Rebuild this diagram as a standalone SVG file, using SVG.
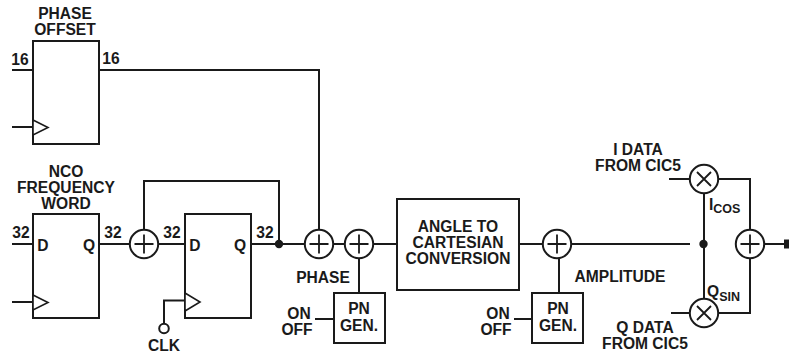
<svg xmlns="http://www.w3.org/2000/svg" width="789" height="353" viewBox="0 0 789 353">
<style>
text{font-family:"Liberation Sans",Arial,sans-serif;font-weight:700;font-size:15.6px;fill:#1a1a1a;text-anchor:middle}
.sub{font-size:12.500px}
.l{text-anchor:start}
.b,.s{fill:#fff;stroke:#1a1a1a;stroke-width:2}
.w{fill:none;stroke:#1a1a1a;stroke-width:2}
.t{fill:#fff;stroke:#1a1a1a;stroke-width:1.6}
.c{fill:none;stroke:#1a1a1a;stroke-width:1.8}
</style>
<defs>
<g id="add"><circle r="14.2" class="s"/><path d="M-9.5 0H9.5M0-9.5V9.5" class="c"/></g>
<g id="mul"><circle r="14.2" class="s"/><path d="M-7-7L7 7M-7 7L7-7" class="c"/></g>
</defs>
<g id="connectors">
<path class="w" d="M12 70H33M99 70H319V230M12 127H33M12 302H33M12 244H33M99 244H130M158 244H185M144 230V181H279V244M251 244H305M333 244H345M373 244H397M519 244H543M571 244H690M704 193V299M718 179H750V230M718 313H750V258M669 179H690M671 313H690M764 244H786M359 258V293M559 258V293M315 319H334M514 319H532M185 300.500H164V323"/>
<path d="M784 239.500V248.500H789V239.500Z" fill="#1a1a1a"/>
<circle cx="279" cy="244" r="4.200" fill="#1a1a1a"/>
<circle cx="703.500" cy="244" r="4.200" fill="#1a1a1a"/>
</g>
<g id="phase-offset"><rect class="b" x="33" y="41" width="66" height="103"/><path class="t" d="M33 120L48 127.500L33 135Z"/><text x="65" y="19">PHASE</text><text x="65" y="35">OFFSET</text><text x="20" y="65">16</text><text x="111" y="64">16</text></g>
<g id="nco-word"><rect class="b" x="33" y="214" width="66" height="104"/><path class="t" d="M33 295L48 302.500L33 310Z"/><text x="66" y="177">NCO</text><text x="66" y="193">FREQUENCY</text><text x="66" y="209">WORD</text><text x="21" y="238">32</text><text x="113" y="238">32</text><text x="43" y="251">D</text><text x="89" y="251">Q</text></g>
<g id="adder-1"><use href="#add" x="144" y="244"/></g>
<g id="register"><rect class="b" x="185" y="214" width="66" height="104"/><path class="t" d="M185 293L200 302L185 311Z"/><text x="172" y="238">32</text><text x="265" y="238">32</text><text x="195" y="251">D</text><text x="240" y="251">Q</text></g>
<g id="clk"><circle cx="164" cy="328.500" r="4.800" class="s"/><text x="164" y="351">CLK</text></g>
<g id="adder-2"><use href="#add" x="319" y="244"/></g>
<g id="adder-3"><use href="#add" x="359" y="244"/><text x="323" y="283">PHASE</text></g>
<g id="pn-1"><rect class="b" x="334" y="293" width="51" height="50"/><text x="359" y="314">PN</text><text x="359" y="331">GEN.</text><text x="299" y="319">ON</text><text x="297" y="335">OFF</text></g>
<g id="angle"><rect class="b" x="397" y="199" width="122" height="91"/><text x="458" y="232">ANGLE TO</text><text x="458" y="248">CARTESIAN</text><text x="458" y="264">CONVERSION</text></g>
<g id="adder-4"><use href="#add" x="557" y="244"/><text x="620" y="282">AMPLITUDE</text></g>
<g id="pn-2"><rect class="b" x="532" y="293" width="51" height="50"/><text x="558" y="314">PN</text><text x="558" y="331">GEN.</text><text x="498" y="319">ON</text><text x="496" y="335">OFF</text></g>
<g id="mult-i"><use href="#mul" x="704" y="179"/><text x="638" y="155">I DATA</text><text x="638" y="171">FROM CIC5</text><text class="l" x="709" y="210">I<tspan class="sub" dy="3">COS</tspan></text></g>
<g id="mult-q"><use href="#mul" x="704" y="313"/><text x="645" y="333">Q DATA</text><text x="645" y="349">FROM CIC5</text><text class="l" x="707" y="297">Q<tspan class="sub" dy="4">SIN</tspan></text></g>
<g id="adder-out"><use href="#add" x="750" y="244"/></g>
</svg>
